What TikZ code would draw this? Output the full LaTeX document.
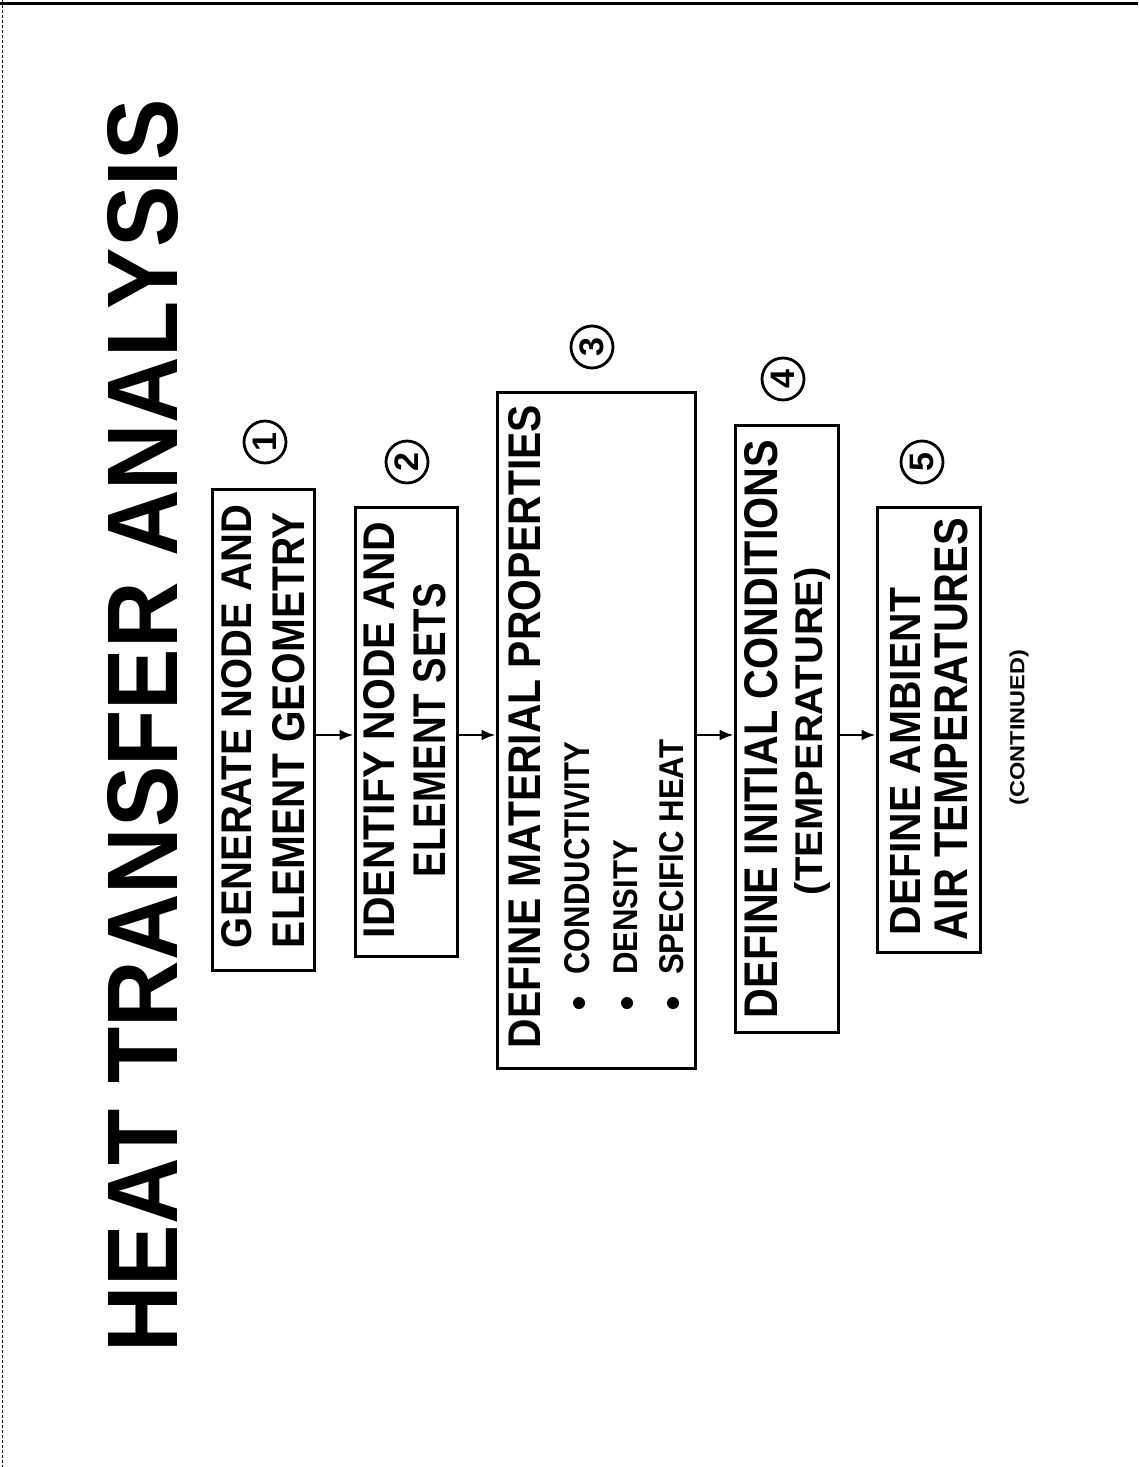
\documentclass[tikz,border=0pt]{standalone}
\usepackage{fontspec}
\setmainfont{Liberation Sans}
\usepackage{graphicx}
\usetikzlibrary{arrows.meta}
\newcommand\fitline[3]{\resizebox{#1pt}{#2pt}{\bfseries #3}}
\newcommand\fitlinep[3]{\resizebox*{#1pt}{#2pt}{\bfseries #3}}
\begin{document}
\begin{tikzpicture}[x=1pt,y=-1pt,
  box/.style={draw, line width=3pt, inner sep=0pt},
  txt/.style={rotate=90, inner sep=0pt},
  num/.style={draw, circle, line width=2.8pt, minimum size=42pt, inner sep=0pt, rotate=90,
    font=\bfseries\fontsize{34}{34}\selectfont},
  dot/.style={circle, fill, minimum size=12pt, inner sep=0pt},
  flow/.style={line width=2.6pt, -{Latex[length=14pt,width=11pt]}}]
\useasboundingbox (0,0) rectangle (1138,1467);
\fill[white] (0,0) rectangle (1138,1467);
% page edges
\draw[line width=3pt] (0,3) -- (1138,3);
\draw[line width=0.8pt, densely dashed] (2,0) -- (2,1467);
% title
\node[txt] (title) at (143,726) {\fitline{1252}{70}{HEAT TRANSFER ANALYSIS}};
% boxes
\node[box, minimum width=102pt, minimum height=481pt] (b1) at (263,729.5) {};
\node[box, minimum width=102pt, minimum height=449pt] (b2) at (406,731.5) {};
\node[box, minimum width=198pt, minimum height=676pt] (b3) at (596,730) {};
\node[box, minimum width=103pt, minimum height=607pt] (b4) at (786.5,728.5) {};
\node[box, minimum width=103pt, minimum height=445pt] (b5) at (928.5,729.5) {};
% box texts
\node[txt] (t11) at (237,726.5) {\fitline{443}{30}{GENERATE NODE AND}};
\node[txt] (t12) at (289,730) {\fitline{436}{32}{ELEMENT GEOMETRY}};
\node[txt] (t21) at (379.5,730) {\fitline{416}{31}{IDENTIFY NODE AND}};
\node[txt] (t22) at (430,730) {\fitline{294}{32}{ELEMENT SETS}};
\node[txt] (t31) at (525,726.5) {\fitline{643}{32}{DEFINE MATERIAL PROPERTIES}};
\node[txt, anchor=west] (t32) at (577.5,975) {\fitline{233}{25}{CONDUCTIVITY}};
\node[txt, anchor=west] (t33) at (626,975) {\fitline{135}{24}{DENSITY}};
\node[txt, anchor=west] (t34) at (672,975) {\fitline{235}{24}{SPECIFIC HEAT}};
\node[dot] (d1) at (579,1003) {};
\node[dot] (d2) at (627,1003) {};
\node[dot] (d3) at (673,1003) {};
\node[txt] (t41) at (761.5,729) {\fitline{578}{33}{DEFINE INITIAL CONDITIONS}};
\node[txt] (t42) at (812.5,731) {\fitlinep{328}{36}{(TEMPERATURE)}};
\node[txt] (t51) at (905,761.5) {\fitline{347}{30}{DEFINE AMBIENT}};
\node[txt] (t52) at (951.5,729) {\fitline{422}{33}{AIR TEMPERATURES}};
\node[txt] (cont) at (1019,727.5) {\fitlinep{155}{19}{(CONTINUED)}};
% step numbers
\node[num] (n1) at (265,442) {1};
\node[num] (n2) at (407,462) {2};
\node[num] (n3) at (592,347) {3};
\node[num] (n4) at (783,379) {4};
\node[num] (n5) at (922,462) {5};
% arrows
\coordinate (ay) at (0,735);
\draw[flow] (b1.east |- ay) -- (b2.west |- ay);
\draw[flow] (b2.east |- ay) -- (b3.west |- ay);
\draw[flow] (b3.east |- ay) -- (b4.west |- ay);
\draw[flow] (b4.east |- ay) -- (b5.west |- ay);
\end{tikzpicture}
\end{document}
